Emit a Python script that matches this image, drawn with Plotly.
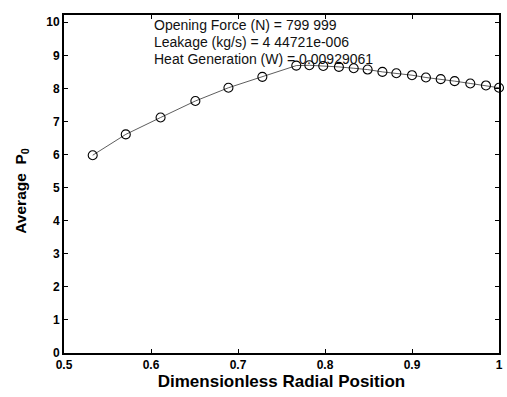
import plotly.graph_objects as go

radial_position = [0.533, 0.571, 0.611, 0.651, 0.689, 0.728, 0.767, 0.782, 0.798,
                   0.816, 0.833, 0.849, 0.866, 0.882, 0.900, 0.916, 0.933, 0.949,
                   0.967, 0.985, 1.0]
average_p0 = [5.98, 6.61, 7.12, 7.62, 8.02, 8.35, 8.69, 8.70, 8.68, 8.65, 8.61,
              8.57, 8.50, 8.46, 8.40, 8.33, 8.28, 8.22, 8.15, 8.09, 8.02]
x_ticks = [0.5, 0.6, 0.7, 0.8, 0.9, 1.0]
x_tick_labels = ["0.5", "0.6", "0.7", "0.8", "0.9", "1"]
y_ticks = list(range(0, 11))
info_lines = ["Opening Force (N) = 799 999",
              "Leakage (kg/s) = 4 44721e-006",
              "Heat Generation (W) = 0.00929061"]

fig = go.Figure()
fig.add_trace(go.Scatter(
    x=radial_position, y=average_p0, mode="lines+markers",
    line=dict(color="#333333", width=0.8),
    marker=dict(symbol="circle-open", size=9, color="black", line=dict(width=1.1)),
    cliponaxis=False, showlegend=False))

fam = "Liberation Sans, Arial, sans-serif"
fig.update_layout(
    width=507, height=397,
    margin=dict(l=64, r=8, t=15, b=44, autoexpand=False),
    paper_bgcolor="white", plot_bgcolor="white",
    xaxis=dict(range=[0.5, 1.0], tickvals=x_ticks, ticktext=x_tick_labels,
               ticks="inside", ticklen=4, tickcolor="black", mirror="ticks",
               showline=True, linecolor="black", linewidth=2, showgrid=False, zeroline=False,
               automargin=False,
               tickfont=dict(size=12, family=fam, color="black", weight="bold"),
               title=dict(text="Dimensionless Radial Position",
                          font=dict(size=17, family=fam, color="black", weight="bold"), standoff=4)),
    yaxis=dict(range=[0, 10.22], tickvals=y_ticks,
               ticks="inside", ticklen=4, tickcolor="black", mirror="ticks",
               showline=True, linecolor="black", linewidth=2, showgrid=False, zeroline=False,
               automargin=False,
               tickfont=dict(size=12, family=fam, color="black", weight="bold")),
)

fig.add_annotation(x=0, y=0.48, xref="paper", yref="paper", xshift=-42,
                   text="<b>Average  P<sub>0</sub></b>", textangle=-90, showarrow=False,
                   xanchor="center", yanchor="middle",
                   font=dict(size=15.5, family=fam, color="black"))

for i, line in enumerate(info_lines):
    fig.add_annotation(x=0.601, y=9.91 - 0.515 * i, xref="x", yref="y", text=line,
                       showarrow=False, xanchor="left", yanchor="middle",
                       font=dict(size=14, family=fam, color="#111111"))

fig.write_html("out.html")
